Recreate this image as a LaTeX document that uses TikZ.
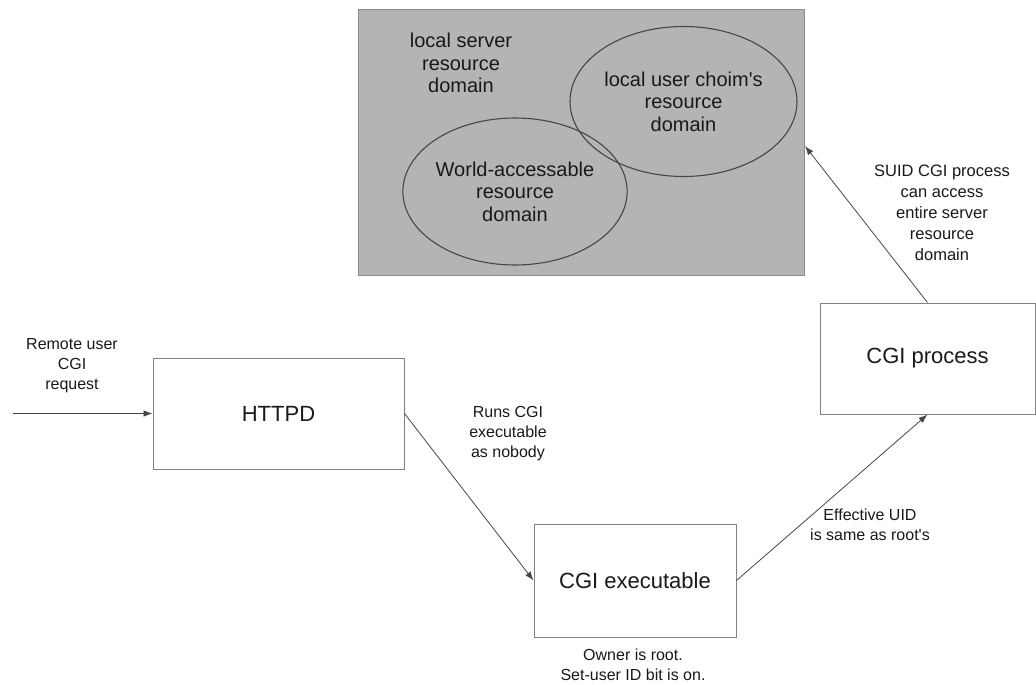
\documentclass[tikz,border=0pt]{standalone}
\usepackage{fontspec}
\setmainfont{Liberation Sans}
\usetikzlibrary{arrows.meta,shapes.geometric,calc}
\definecolor{panelfill}{RGB}{180,180,180}
\definecolor{panelline}{RGB}{140,140,140}
\definecolor{boxline}{RGB}{130,130,130}
\definecolor{inkline}{RGB}{70,70,70}
\definecolor{ink}{RGB}{25,25,25}
\tikzset{
  procbox/.style={draw=boxline,line width=1pt,fill=white,rectangle,inner sep=0pt,
    text=ink,font=\fontsize{22}{26}\selectfont},
  domainring/.style={draw=inkline,line width=1.1pt,ellipse,inner sep=0pt,align=center,
    text=ink,font=\fontsize{20}{22.5}\selectfont},
  domaintext/.style={align=center,text=ink,font=\fontsize{20}{22.5}\selectfont},
  note/.style={align=center,text=ink,font=\fontsize{16}{20}\selectfont},
  flow/.style={draw=inkline,line width=0.8pt,-{Latex[length=9pt,width=6.5pt]}}
}
\begin{document}
\begin{tikzpicture}[x=1pt,y=-1pt]
\useasboundingbox (0,0) rectangle (1036,685);

% resource domains of the server
\node[rectangle,draw=panelline,line width=1pt,fill=panelfill,
      minimum width=446pt,minimum height=265pt,inner sep=0pt] (panel) at (581.5,142.5) {};
\node[domaintext] (server) at (461,63) {local server\\resource\\domain};
\node[domainring,minimum width=227pt,minimum height=150pt] (userdom) at (683.5,101.5)
  {local user choim\textquotesingle s\\resource\\domain};
\node[domainring,minimum width=224pt,minimum height=147pt] (worlddom) at (515,191.5)
  {World-accessable\\resource\\domain};

% processing chain
\node[procbox,minimum width=251pt,minimum height=111pt] (httpd) at (278.5,413.5) {HTTPD};
\node[procbox,minimum width=202pt,minimum height=113pt] (exec) at (635,580.5) {CGI executable};
\node[procbox,minimum width=215pt,minimum height=111pt] (proc) at (927.5,358.5) {CGI process};

\coordinate (src) at (13,413.5);

% connectors
\draw[flow] (src) -- (httpd.west);
\draw[flow] (httpd.east) -- (exec.west);
\draw[flow] (exec.east) -- (proc.south);
\draw[flow] (proc.north) -- ([yshift=-3.5pt]panel.east);

% annotations
\node[note] (reqlabel) at (72,366) {Remote user\\CGI\\request};
\node[note] (runlabel) at (508,434) {Runs CGI\\executable\\as nobody};
\node[note] (uidlabel) at (870,525) {Effective UID\\is same as root\textquotesingle s};
\node[note] (ownlabel) at (633,665) {Owner is root.\\Set-user ID bit is on.};
\node[note,font=\fontsize{16.5}{21}\selectfont] (suidlabel) at (942,213)
  {SUID CGI process\\can access\\entire server\\resource\\domain};
\end{tikzpicture}
\end{document}
